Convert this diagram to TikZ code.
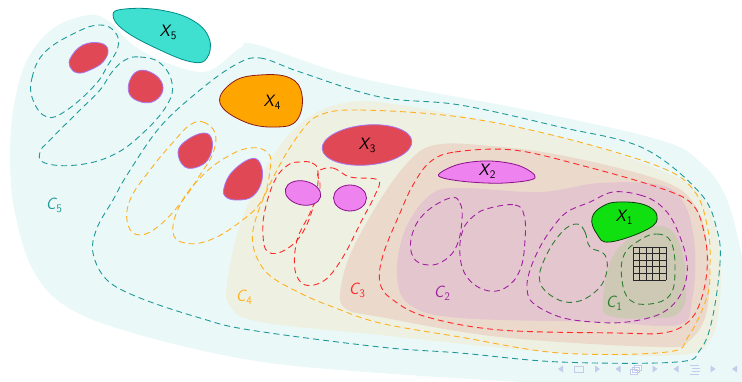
\documentclass[tikz,border=0pt]{standalone}
\usepackage{xcolor}
\definecolor{cfive}{HTML}{EAF8F8}
\definecolor{cfour}{HTML}{EEF1E1}
\definecolor{cthree}{HTML}{EBD9CB}
\definecolor{ctwo}{HTML}{E4C6CF}
\definecolor{cone}{HTML}{CDC9B5}
\definecolor{tealdash}{HTML}{1F9A9A}
\definecolor{orangedash}{HTML}{FFB020}
\definecolor{reddash}{HTML}{FF2828}
\definecolor{purpledash}{HTML}{A020A0}
\definecolor{greendash}{HTML}{2E7D32}
\definecolor{turq}{HTML}{40E0D0}
\definecolor{turqline}{HTML}{008B8B}
\definecolor{orangefill}{HTML}{FFA500}
\definecolor{orangeline}{HTML}{8B1A1A}
\definecolor{redblob}{HTML}{E04856}
\definecolor{redline}{HTML}{A878F0}
\definecolor{violetfill}{HTML}{EE82EE}
\definecolor{violetline}{HTML}{8B108B}
\definecolor{greenfill}{HTML}{10E010}
\definecolor{greenline}{HTML}{0A3A0A}
\definecolor{navcol}{HTML}{C5CBEA}
\newcommand{\Xlab}[2]{\textsf{\textsl{#1}\kern-0.04em\raisebox{-0.45ex}{\fontsize{11.5}{12}\selectfont #2}}}
\tikzset{
  region/.style={fill=#1, draw=none},
  dloop/.style={draw=#1, line width=0.9pt, dash pattern=on 6pt off 4pt},
  blob/.style={fill=#1, line width=0.8pt},
  lab/.style={font=\fontsize{16.5}{18}\selectfont, inner sep=0pt},
  navicon/.style={fill=navcol, draw=none},
}
\begin{document}
\begin{tikzpicture}[x=1pt, y=-1pt]
\useasboundingbox (0,0) rectangle (742,382);

% ---- nested regions ----
\fill[cfive] plot[smooth cycle, tension=0.6] coordinates {
  (90,15) (110,22) (133,45) (167,63) (200,72) (218,66) (240,48) (258,45)
  (360,78) (527,110) (660,140) (700,162) (725,195) (740,247) (748,300)
  (750,390) (600,386) (380,373) (250,360) (133,333) (67,307) (33,270)
  (15,213) (10,160) (14,105) (28,58) (55,27)};
\fill[cfour] plot[smooth cycle, tension=0.6] coordinates {
  (227,285) (240,225) (270,160) (305,120) (345,103) (400,105) (560,137)
  (660,170) (700,195) (718,240) (720,300) (710,340) (680,355) (550,352)
  (380,335) (260,322) (231,307)};
\fill[cthree] plot[smooth cycle, tension=0.6] coordinates {
  (340,295) (350,255) (380,200) (410,160) (435,145) (480,145) (560,155)
  (660,180) (695,205) (708,250) (707,310) (690,340) (660,347) (500,337)
  (380,317) (348,310)};
\fill[ctwo] plot[smooth cycle, tension=0.6] coordinates {
  (397,275) (405,230) (430,195) (460,188) (540,192) (600,183) (660,185)
  (685,205) (695,250) (692,300) (678,325) (600,322) (460,318) (410,305)};
\fill[cone] plot[smooth cycle, tension=0.7] coordinates {
  (603,300) (612,258) (635,235) (660,226) (678,240) (686,280) (680,312)
  (650,318) (610,316)};

% ---- teal loops ----
\draw[dloop=tealdash] plot[smooth cycle, tension=0.7] coordinates {
  (33,100) (32,78) (45,52) (77,32) (100,25) (115,32) (118,47) (108,65)
  (95,85) (67,110) (47,117)};
\draw[dloop=tealdash] plot[smooth cycle, tension=0.7] coordinates {
  (125,60) (140,57) (160,63) (172,83) (167,105) (143,133) (113,155)
  (77,165) (45,163) (40,152) (50,140) (80,110) (100,90) (112,72)};
\draw[dloop=tealdash] plot[smooth cycle, tension=0.6] coordinates {
  (235,65) (260,58) (300,72) (380,97) (460,105) (560,127) (643,148)
  (700,193) (717,230) (720,263) (712,320) (700,350) (677,362) (560,362)
  (460,353) (380,347) (250,330) (200,318) (140,298) (107,280) (93,253)
  (97,228) (113,200) (127,175) (160,127) (200,90)};

% ---- orange loops ----
\draw[dloop=orangedash] plot[smooth cycle, tension=0.7] coordinates {
  (190,125) (203,122) (215,133) (213,153) (200,175) (183,200) (160,225)
  (140,235) (128,225) (130,200) (150,170) (175,140)};
\draw[dloop=orangedash] plot[smooth cycle, tension=0.7] coordinates {
  (180,205) (200,178) (225,158) (250,148) (268,153) (270,170) (262,200)
  (240,222) (210,240) (185,243) (173,232)};
\draw[dloop=orangedash] plot[smooth cycle, tension=0.6] coordinates {
  (320,115) (360,110) (460,117) (560,137) (660,167) (695,192) (708,230)
  (710,265) (707,297) (688,337) (667,352) (560,353) (460,337) (380,323)
  (333,307) (300,293) (267,273) (253,245) (257,215) (277,170) (300,133)};

% ---- red loops ----
\draw[dloop=reddash] plot[smooth cycle, tension=0.7] coordinates {
  (300,162) (312,163) (318,172) (315,200) (303,232) (285,250) (268,252)
  (263,235) (265,210) (275,180) (288,165)};
\draw[dloop=reddash] plot[smooth cycle, tension=0.6] coordinates {
  (318,172) (333,168) (350,177) (378,180) (375,195) (362,220) (343,257)
  (325,280) (305,285) (295,270) (297,240) (310,213) (320,188)};
\draw[dloop=reddash] plot[smooth cycle, tension=0.6] coordinates {
  (430,162) (455,152) (513,150) (580,165) (660,188) (693,205) (705,237)
  (707,270) (700,303) (687,323) (663,333) (617,333) (500,330) (427,317)
  (393,300) (380,283) (383,255) (400,213) (413,185)};

% ---- purple loops ----
\draw[dloop=purpledash] plot[smooth cycle, tension=0.7] coordinates {
  (450,198) (460,203) (462,220) (457,245) (445,260) (428,265) (413,257)
  (412,235) (425,213)};
\draw[dloop=purpledash] plot[smooth cycle, tension=0.7] coordinates {
  (490,208) (515,205) (524,215) (525,240) (520,270) (505,288) (485,290)
  (467,277) (460,255) (463,230) (475,215)};
\draw[dloop=purpledash] plot[smooth cycle, tension=0.6] coordinates {
  (613,192) (640,195) (660,205) (675,225) (687,262) (682,292) (662,313)
  (627,322) (593,322) (560,317) (533,303) (527,288) (530,270) (540,247)
  (553,227) (567,212) (590,202)};

% ---- green loops ----
\draw[dloop=greendash] plot[smooth cycle, tension=0.7] coordinates {
  (577,224) (585,232) (590,247) (605,255) (606,275) (595,292) (575,302)
  (555,298) (540,282) (545,258) (562,232)};
\draw[dloop=greendash] plot[smooth cycle, tension=0.7] coordinates {
  (640,240) (657,234) (671,242) (675,270) (670,295) (650,304) (630,300)
  (622,280) (624,255)};

% ---- 5x5 grid ----
\foreach \k in {0,...,5} {
  \draw[line width=0.9pt, black!85] ({633+6.6*\k},247) -- ({633+6.6*\k},280);
  \draw[line width=0.9pt, black!85] (633,{247+6.6*\k}) -- (666,{247+6.6*\k});
}

% ---- red blobs ----
\draw[blob=redblob, draw=redline] plot[smooth cycle, tension=0.7] coordinates {
  (71,57) (83,45) (100,43) (108,50) (103,62) (90,70) (78,73) (70,67)};
\draw[blob=redblob, draw=redline] plot[smooth cycle, tension=0.7] coordinates {
  (130,80) (138,71) (150,72) (161,81) (162,93) (152,102) (138,101) (129,93)};
\draw[blob=redblob, draw=redline] plot[smooth cycle, tension=0.7] coordinates {
  (178,152) (187,140) (204,133) (212,140) (210,156) (200,166) (185,167)};
\draw[blob=redblob, draw=redline] plot[smooth cycle, tension=0.7] coordinates {
  (224,188) (232,172) (250,159) (260,163) (262,180) (253,196) (238,200) (226,197)};

% ---- violet ellipses ----
\draw[blob=violetfill, draw=violetline] (303,193) ellipse[x radius=18, y radius=12, rotate=-12];
\draw[blob=violetfill, draw=violetline] (350,198) ellipse[x radius=16.5, y radius=13];

% ---- labelled sets ----
\draw[blob=turq, draw=turqline] plot[smooth cycle, tension=0.7] coordinates {
  (113,15) (125,9) (160,10) (192,20) (209,38) (207,58) (192,62) (160,50) (125,31)};
\draw[blob=orangefill, draw=orangeline] plot[smooth cycle, tension=0.7] coordinates {
  (220,103) (233,82) (260,75) (290,78) (302,95) (297,120) (277,127) (245,122)};
\draw[blob=redblob, draw=redline] (367,145) ellipse[x radius=45, y radius=20, rotate=5];
\draw[blob=violetfill, draw=violetline] plot[smooth cycle, tension=0.6] coordinates {
  (440,173) (460,164) (490,161) (520,166) (535,178) (505,183) (470,182) (443,178)};
\draw[blob=greenfill, draw=greenline] plot[smooth cycle, tension=0.7] coordinates {
  (592,218) (603,206) (620,202) (645,205) (657,216) (648,229) (610,242) (597,234)};

\node[lab] (x5) at (168,32) {\Xlab{X}{5}};
\node[lab] (x4) at (272,102) {\Xlab{X}{4}};
\node[lab] (x3) at (367,145) {\Xlab{X}{3}};
\node[lab] (x2) at (487,171) {\Xlab{X}{2}};
\node[lab] (x1) at (624,217) {\Xlab{X}{1}};

\node[lab, text=tealdash] (c5) at (54,205) {\Xlab{C}{5}};
\node[lab, text=orangedash] (c4) at (244,297) {\Xlab{C}{4}};
\node[lab, text=reddash] (c3) at (357,290) {\Xlab{C}{3}};
\node[lab, text=purpledash] (c2) at (442,293) {\Xlab{C}{2}};
\node[lab, text=greendash] (c1) at (614,303) {\Xlab{C}{1}};

% ---- navigation symbols ----
\begin{scope}[navicon]
  \fill (558,369) -- (563,365.5) -- (563,372.5) -- cycle;
  \draw[navcol, line width=0.8pt] (574.5,366) rectangle (583.5,372);
  \fill (600,369) -- (595,365.5) -- (595,372.5) -- cycle;
  \fill (615.5,369) -- (620.5,365.5) -- (620.5,372.5) -- cycle;
  \draw[navcol, line width=0.8pt, fill=white] (634,365) rectangle (641,370)
    (632,367) rectangle (639,372) (630,369) rectangle (637,374);
  \fill (657.5,369) -- (652.5,365.5) -- (652.5,372.5) -- cycle;
  \fill (673.5,369) -- (678.5,365.5) -- (678.5,372.5) -- cycle;
  \draw[navcol, line width=1pt] (690,365) -- (699,365) (692,368) -- (700,368)
    (692,371) -- (700,371) (690,374) -- (699,374);
  \fill (715.5,369) -- (710.5,365.5) -- (710.5,372.5) -- cycle;
  \fill (732,369) -- (737,365.5) -- (737,372.5) -- cycle;
\end{scope}
\end{tikzpicture}
\end{document}
